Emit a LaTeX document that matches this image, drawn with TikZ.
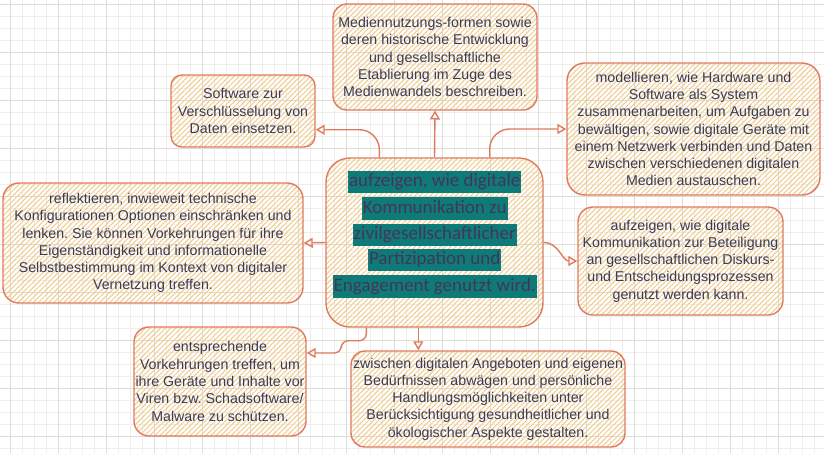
\documentclass[tikz,border=0pt]{standalone}
\usepackage{fontspec}
\setmainfont{Liberation Sans}
\newfontfamily\calib{Carlito}
\usetikzlibrary{patterns.meta,arrows.meta,calc}
\definecolor{strk}{HTML}{E07A5F}
\definecolor{hatch}{HTML}{F2CC8F}
\definecolor{txt}{HTML}{393C56}
\definecolor{ctxt}{HTML}{433658}
\definecolor{tealbg}{HTML}{0F7B78}
\definecolor{gminor}{RGB}{239,238,233}
\definecolor{gmajor}{RGB}{222,220,212}
\frenchspacing
\begin{document}
\frenchspacing
\begin{tikzpicture}[x=1pt,y=-1pt,
 box/.style={draw=strk,line width=1.4pt,rounded corners=#1,pattern={Lines[angle=45,distance=3.6pt,line width=1pt]},pattern color=hatch,align=center,text=txt,inner sep=0pt,font=\frenchspacing\fontsize{14.2}{17.3}\selectfont},
 cline/.style={fill=tealbg,text=ctxt,font=\calib\fontsize{19}{22}\selectfont,inner xsep=1pt,inner ysep=2pt,text height=14pt,text depth=4.6pt},
 conn/.style={draw=strk,line width=1.4pt,-{Triangle[open,length=9pt,width=10pt]}},
 gmin/.style={draw=gminor,line width=1pt},
 gmaj/.style={draw=gmajor,line width=1pt}]
\useasboundingbox (0,0) rectangle (824,453);
\fill[white] (0,0) rectangle (824,453);
\begin{scope}
\clip (0,0) rectangle (824,453);
\foreach \x in {10,22,...,826} \draw[gmin] (\x,0) -- (\x,453);
\foreach \y in {4,16,...,460} \draw[gmin] (0,\y) -- (824,\y);
\foreach \x in {10,58,...,826} \draw[gmaj] (\x,0) -- (\x,453);
\foreach \y in {4,52,...,460} \draw[gmaj] (0,\y) -- (824,\y);
\end{scope}

\node[box=14pt,minimum width=204pt,minimum height=106pt] (top) at (435,57)
 {Mediennutzungs-formen sowie\\deren historische Entwicklung\\und gesellschaftliche\\Etablierung im Zuge des\\Medienwandels beschreiben.};
\node[box=11pt,minimum width=144pt,minimum height=72pt] (tl) at (243,111)
 {Software zur\\Verschlüsselung von\\Daten einsetzen.};
\node[box=18pt,minimum width=253pt,minimum height=132pt] (tr) at (693.5,129)
 {modellieren, wie Hardware und\\Software als System\\zusammenarbeiten, um Aufgaben zu\\bewältigen, sowie digitale Geräte mit\\einem Netzwerk verbinden und Daten\\zwischen verschiedenen digitalen\\Medien austauschen.};
\node[box=15pt,minimum width=205pt,minimum height=108pt] (rm) at (680.5,261)
 {aufzeigen, wie digitale\\Kommunikation zur Beteiligung\\an gesellschaftlichen Diskurs-\\und Entscheidungsprozessen\\genutzt werden kann.};
\node[box=16pt,minimum width=300pt,minimum height=120pt] (left) at (153,243)
 {reflektieren, inwieweit technische\\Konfigurationen Optionen einschränken und\\lenken. Sie können Vorkehrungen für ihre\\Eigenständigkeit und informationelle\\Selbstbestimmung im Kontext von digitaler\\Vernetzung treffen.};
\node[box=15pt,minimum width=172pt,minimum height=109pt] (bl) at (220,381.5)
 {entsprechende\\Vorkehrungen treffen, um\\ihre Geräte und Inhalte vor\\Viren bzw. Schadsoftware/\\Malware zu schützen.};
\node[box=14pt,minimum width=274pt,minimum height=96pt] (br) at (488,399)
 {zwischen digitalen Angeboten und eigenen\\Bedürfnissen abwägen und persönliche\\Handlungsmöglichkeiten unter\\Berücksichtigung gesundheitlicher und\\ökologischer Aspekte gestalten.};
\node[box=24pt,minimum width=217pt,minimum height=169pt] (cen) at (434.5,242.5) {};
\node[cline] (c1) at (434.7,182) {aufzeigen, wie digitale};
\node[cline] (c2) at (434.7,208.3) {Kommunikation zu};
\node[cline] (c3) at (434.7,235) {zivilgesellschaftlicher};
\node[cline] (c4) at (434.7,260) {Partizipation und};
\node[cline] (c5) at (434.7,286.7) {Engagement genutzt wird.};

\coordinate (ptl) at ([xshift=54pt]cen.north west);
\coordinate (ptr) at ([xshift=-54pt]cen.north east);
\coordinate (pbl) at ([xshift=41pt]cen.south west);
\coordinate (pbr) at ([xshift=93pt]cen.south west);
\coordinate (etl) at ([yshift=18pt]tl.south east);
\coordinate (ebl) at ([yshift=28.5pt]bl.east);

\draw[conn] (cen.north) -- (top.south);
\draw[conn,rounded corners=20pt] (ptl) |- (etl);
\draw[conn,rounded corners=20pt] (ptr) |- (tr.west);
\draw[conn] (cen.west) -- (left.east);
\draw[conn] (cen.east) to[out=0,in=180] (rm.west);
\draw[conn,rounded corners=7pt] (pbl) -- ++(0,13) -- ++(-25,0) |- (ebl);
\draw[conn] (pbr) -- (pbr |- br.north);
\end{tikzpicture}
\end{document}
